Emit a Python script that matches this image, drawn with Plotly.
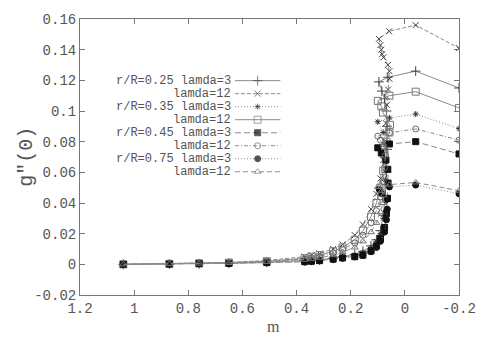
import plotly.graph_objects as go

# ---------------- data ----------------
m_low = [1.04, 0.87, 0.76, 0.65, 0.51, 0.37, 0.345, 0.315, 0.265, 0.23, 0.185, 0.155, 0.125, 0.105, 0.09]

# r/R=0.25 lamda=3
m_25_3 = m_low + [0.08, 0.072, 0.068, 0.066, 0.066, 0.068, 0.075, 0.085, 0.096, 0.063, -0.04, -0.2]
g_25_3 = [0, 0.0002, 0.0004, 0.0007, 0.0013, 0.0022, 0.0026, 0.003, 0.004, 0.005, 0.0065, 0.0085, 0.012, 0.016, 0.022,
          0.032, 0.045, 0.06, 0.075, 0.09, 0.10, 0.108, 0.113, 0.119, 0.122, 0.126, 0.115]
# r/R=0.25 lamda=12
m_25_12 = m_low + [0.08, 0.075, 0.07, 0.066, 0.062, 0.057, 0.057, 0.063, 0.079, 0.084, 0.087, 0.090, 0.096, 0.058, -0.04, -0.2]
g_25_12 = [0, 0.0004, 0.0008, 0.0013, 0.0025, 0.005, 0.006, 0.007, 0.010, 0.013, 0.019, 0.026, 0.036, 0.046, 0.056,
           0.068, 0.08, 0.092, 0.104, 0.114, 0.121, 0.126, 0.130, 0.135, 0.137, 0.140, 0.143, 0.147, 0.152, 0.156, 0.141]
# r/R=0.35 lamda=3
m_35_3 = m_low + [0.08, 0.075, 0.072, 0.07, 0.072, 0.08, 0.1, 0.057, -0.04, -0.2]
g_35_3 = [0, 0.0002, 0.0004, 0.0006, 0.0012, 0.002, 0.0024, 0.0028, 0.0036, 0.0045, 0.006, 0.0078, 0.011, 0.015, 0.02,
          0.03, 0.042, 0.055, 0.067, 0.078, 0.086, 0.093, 0.0955, 0.098, 0.0885]
# r/R=0.35 lamda=12
m_35_12 = m_low + [0.08, 0.075, 0.068, 0.057, 0.055, 0.081, 0.087, 0.1, 0.057, -0.04, -0.2]
g_35_12 = [0, 0.0003, 0.0007, 0.0011, 0.002, 0.004, 0.005, 0.006, 0.0085, 0.011, 0.016, 0.022, 0.031, 0.04, 0.05,
           0.061, 0.072, 0.080, 0.086, 0.091, 0.099, 0.103, 0.1066, 0.110, 0.1126, 0.102]
# r/R=0.45 lamda=3
m_45_3 = m_low + [0.075, 0.068, 0.064, 0.062, 0.063, 0.07, 0.087, 0.1, 0.057, -0.04, -0.2]
g_45_3 = [0, 0.0002, 0.0004, 0.0006, 0.0011, 0.0017, 0.002, 0.0024, 0.0034, 0.0042, 0.005, 0.006, 0.0087, 0.012, 0.017,
          0.024, 0.033, 0.043, 0.053, 0.062, 0.068, 0.0726, 0.076, 0.0785, 0.080, 0.072]
# r/R=0.45 lamda=12
m_45_12 = m_low + [0.08, 0.075, 0.072, 0.078, 0.09, 0.1, 0.057, -0.04, -0.2]
g_45_12 = [0, 0.0003, 0.0006, 0.001, 0.0018, 0.0035, 0.0043, 0.0052, 0.0075, 0.0098, 0.014, 0.019, 0.027, 0.035, 0.044,
           0.054, 0.063, 0.071, 0.077, 0.081, 0.0836, 0.0858, 0.0883, 0.081]
# r/R=0.75 lamda=3
m_75_3 = m_low + [0.075, 0.068, 0.065, 0.07, 0.085, 0.095, 0.057, -0.04, -0.2]
g_75_3 = [0, 0.0002, 0.0004, 0.0006, 0.0011, 0.0016, 0.0019, 0.0023, 0.0032, 0.004, 0.0048, 0.0058, 0.0082, 0.011, 0.015,
          0.021, 0.029, 0.036, 0.042, 0.046, 0.049, 0.0505, 0.0517, 0.046]
# r/R=0.75 lamda=12
m_75_12 = m_low + [0.08, 0.078, 0.085, 0.1, 0.057, -0.04, -0.2]
g_75_12 = [0, 0.0003, 0.0005, 0.0009, 0.0016, 0.003, 0.0036, 0.0043, 0.006, 0.008, 0.011, 0.015, 0.021, 0.027, 0.034,
           0.04, 0.045, 0.048, 0.0505, 0.052, 0.0534, 0.048]

labels = ["r/R=0.25 lamda=3", "lamda=12", "r/R=0.35 lamda=3", "lamda=12",
          "r/R=0.45 lamda=3", "lamda=12", "r/R=0.75 lamda=3", "lamda=12"]

x_ticks = [1.2, 1.0, 0.8, 0.6, 0.4, 0.2, 0.0, -0.2]
x_tick_text = ["1.2", "1", "0.8", "0.6", "0.4", "0.2", "0", "-0.2"]
y_ticks = [-0.02, 0, 0.02, 0.04, 0.06, 0.08, 0.1, 0.12, 0.14, 0.16]
y_tick_text = ["-0.02", "0", "0.02", "0.04", "0.06", "0.08", "0.1", "0.12", "0.14", "0.16"]

series = [(m_25_3, g_25_3), (m_25_12, g_25_12), (m_35_3, g_35_3), (m_35_12, g_35_12),
          (m_45_3, g_45_3), (m_45_12, g_45_12), (m_75_3, g_75_3), (m_75_12, g_75_12)]

# ---------------- styles ----------------
styles = [
    dict(dash="solid", symbol="cross-thin-open", size=7, mcolor="#444"),
    dict(dash="4px,2px", symbol="x-thin-open", size=6, mcolor="#444"),
    dict(dash="1px,2px", symbol="asterisk-open", size=5, mcolor="#333"),
    dict(dash="solid", symbol="square-open", size=7, mcolor="#777"),
    dict(dash="6px,3px", symbol="square", size=6, mcolor="#111"),
    dict(dash="4px,2px,1px,2px", symbol="circle-open", size=6, mcolor="#666"),
    dict(dash="1px,2px", symbol="circle", size=6, mcolor="#111"),
    dict(dash="5px,3px", symbol="triangle-up-open", size=6, mcolor="#777"),
]
line_color = "#8a8a8a"
FONT = "Liberation Mono"
TEXT_COLOR = "#555"

fig = go.Figure()
for (mx, gy), st, lab in zip(series, styles, labels):
    fig.add_trace(go.Scatter(
        x=mx, y=gy, mode="lines+markers", name=lab, showlegend=False,
        line=dict(color=line_color, width=1, dash=st["dash"]),
        marker=dict(symbol=st["symbol"], size=st["size"], color=st["mcolor"],
                    line=dict(color=st["mcolor"], width=1)),
    ))

# ---------------- manual legend (pixel-mapped overlay axes) ----------------
L, R, T, B = 80, 464, 13, 295
leg_rows = [76, 89.3, 102.6, 115.9, 129.2, 142.5, 155.8, 169.1]
leg_text_right = 234
leg_x0, leg_x1 = 237, 283
for row, st, lab in zip(leg_rows, styles, labels):
    fig.add_trace(go.Scatter(
        x=[leg_x0, (leg_x0 + leg_x1) / 2, leg_x1], y=[row, row, row],
        xaxis="x2", yaxis="y2", mode="lines+markers", showlegend=False, hoverinfo="skip",
        line=dict(color=line_color, width=1, dash=st["dash"]),
        marker=dict(symbol=st["symbol"], size=[0, st["size"], 0], color=st["mcolor"],
                    line=dict(color=st["mcolor"], width=1)),
    ))
    fig.add_annotation(x=leg_text_right, y=row, xref="x2", yref="y2", text=lab,
                       showarrow=False, xanchor="right", yanchor="middle", borderpad=0,
                       font=dict(family=FONT, size=12, color=TEXT_COLOR))

fig.add_annotation(x=(25 - L) / (R - L), y=0.5, xref="paper", yref="paper", text='g"(0)',
                   showarrow=False, textangle=-90, xanchor="center", yanchor="middle",
                   font=dict(family=FONT, size=20, color=TEXT_COLOR))
fig.add_annotation(x=(276 - L) / (R - L), y=(B - 327) / (B - T), xref="paper", yref="paper", text="m",
                   showarrow=False, xanchor="center", yanchor="middle", borderpad=0,
                   font=dict(family="Liberation Serif", size=16, color=TEXT_COLOR))

axis_common = dict(showline=True, linecolor="#777", linewidth=1, mirror="ticks",
                   ticks="inside", ticklen=5, tickcolor="#777", showgrid=False, zeroline=False,
                   tickfont=dict(family=FONT, size=14, color=TEXT_COLOR))

fig.update_layout(
    width=488, height=339,
    margin=dict(l=L, r=488 - R, t=T, b=339 - B),
    paper_bgcolor="white", plot_bgcolor="white",
    showlegend=False,
    xaxis=dict(range=[1.2, -0.2], tickvals=x_ticks, ticktext=x_tick_text, **axis_common),
    yaxis=dict(range=[-0.02, 0.16], tickvals=y_ticks, ticktext=y_tick_text, **axis_common),
    xaxis2=dict(range=[L, R], overlaying="x", visible=False, fixedrange=True),
    yaxis2=dict(range=[B, T], overlaying="y", visible=False, fixedrange=True),
)

fig.write_html("out.html")
